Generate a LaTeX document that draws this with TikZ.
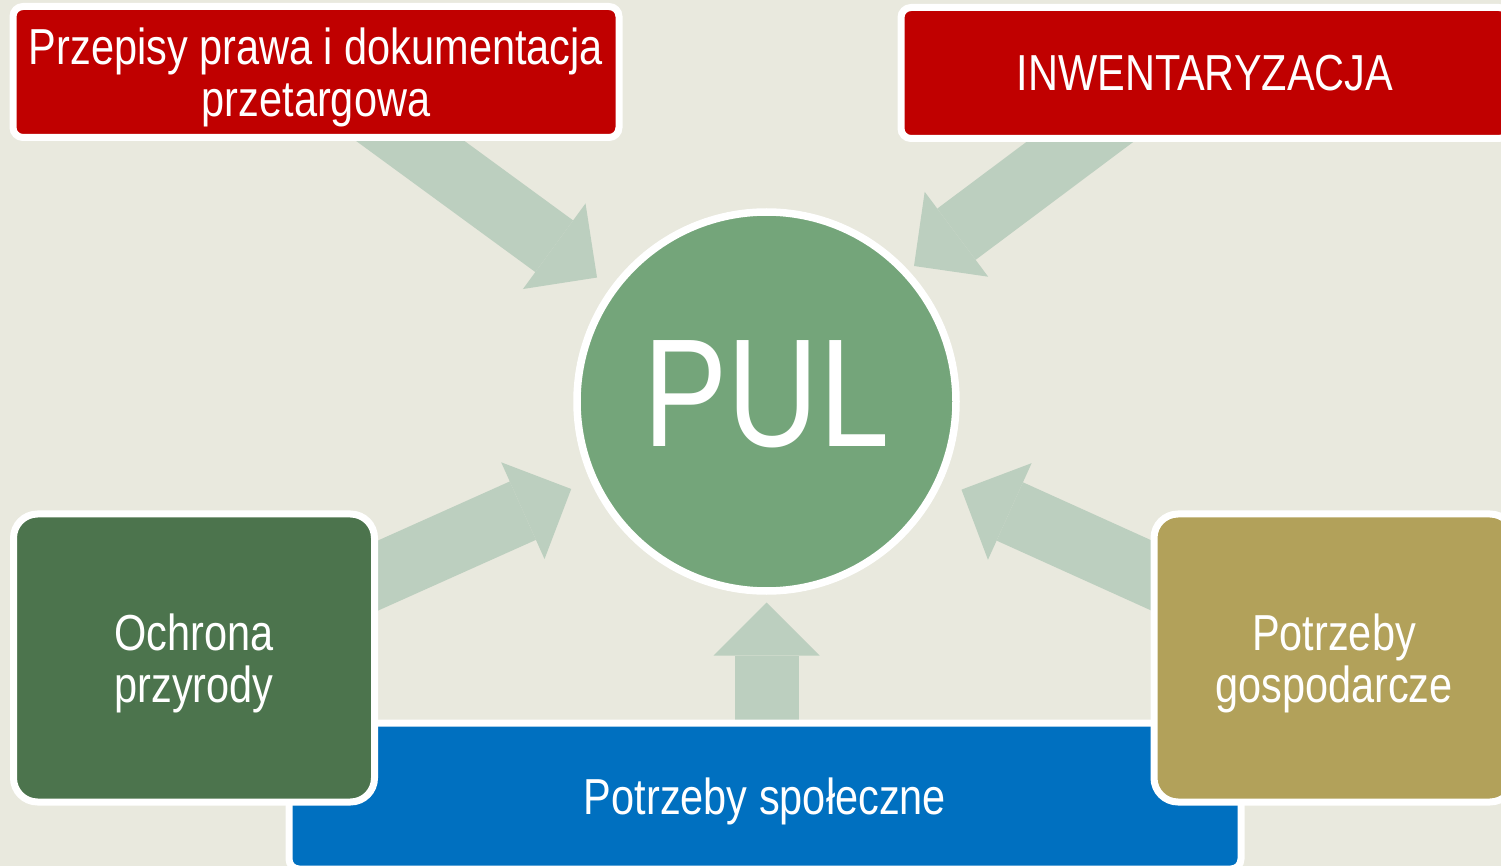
\documentclass[tikz,border=0pt]{standalone}
\usepackage{fontspec}
\newfontfamily\slidefont{Liberation Sans}[FakeStretch=0.82]
\usetikzlibrary{positioning,arrows.meta,calc}
\definecolor{slidebg}{RGB}{233,233,222}
\definecolor{boxred}{RGB}{192,0,0}
\definecolor{boxblue}{RGB}{0,112,192}
\definecolor{boxgreen}{RGB}{76,116,77}
\definecolor{boxolive}{RGB}{178,161,90}
\definecolor{pulgreen}{RGB}{116,165,122}
\definecolor{flowgreen}{RGB}{188,207,191}
\pgfdeclarelayer{back}
\pgfdeclarelayer{flows}
\pgfsetlayers{back,flows,main}

\begin{document}
\begin{tikzpicture}[x=0.5pt, y=-0.5pt,
    box/.style={draw=white, line width=3.5pt, text=white, align=center,
      inner sep=0pt, text depth=0pt, font=\slidefont\fontsize{25.3}{26}\selectfont},
    bigarrow/.style={draw=flowgreen, line width=32pt,
      -{Triangle[length=26.5pt, width=53pt, line width=0pt 0 0]}}]
  \useasboundingbox (0,0) rectangle (1501,866);
  \begin{pgfonlayer}{back}
    \fill[slidebg] (0,0) rectangle (1501,866);
  \end{pgfonlayer}

  \node[box, fill=boxred, rounded corners=5pt, minimum width=303pt, minimum height=65.5pt] (prz) at (316,72) {Przepisy prawa i dokumentacja\\przetargowa};
  \node[box, fill=boxred, rounded corners=5pt, minimum width=304pt, minimum height=65.5pt] (inw) at (1205,73) {INWENTARYZACJA};
  \node[box, fill=boxblue, rounded corners=5pt, minimum width=476pt, minimum height=73pt] (spo) at (765,796) {Potrzeby społeczne};
  \node[box, fill=boxgreen, rounded corners=12pt, minimum width=180.5pt, minimum height=144pt] (och) at (194,658) {Ochrona\\przyrody};
  \node[box, fill=boxolive, rounded corners=12pt, minimum width=180pt, minimum height=144pt] (gos) at (1334,658) {Potrzeby\\gospodarcze};
  \node[circle, draw=white, line width=3.75pt, fill=pulgreen, minimum size=189.5pt,
    text=white, text depth=7.5pt, font=\slidefont\fontsize{77}{77}\selectfont] (pul) at (766.5,401.5) {PUL};

  \coordinate (tipB) at (914,266);
  \begin{pgfonlayer}{flows}
    \draw[bigarrow, shorten >=105pt] (prz.center) -- (pul.center);
    \draw[bigarrow] ($(inw.center)+(-33,0)$) -- (tipB);
    \draw[bigarrow, shorten >=107pt] (och.center) -- (pul.center);
    \draw[bigarrow, shorten >=107pt] (gos.center) -- (pul.center);
    \draw[bigarrow, shorten >=100.5pt] (pul.center |- spo.center) -- (pul.center);
  \end{pgfonlayer}
\end{tikzpicture}
\end{document}
